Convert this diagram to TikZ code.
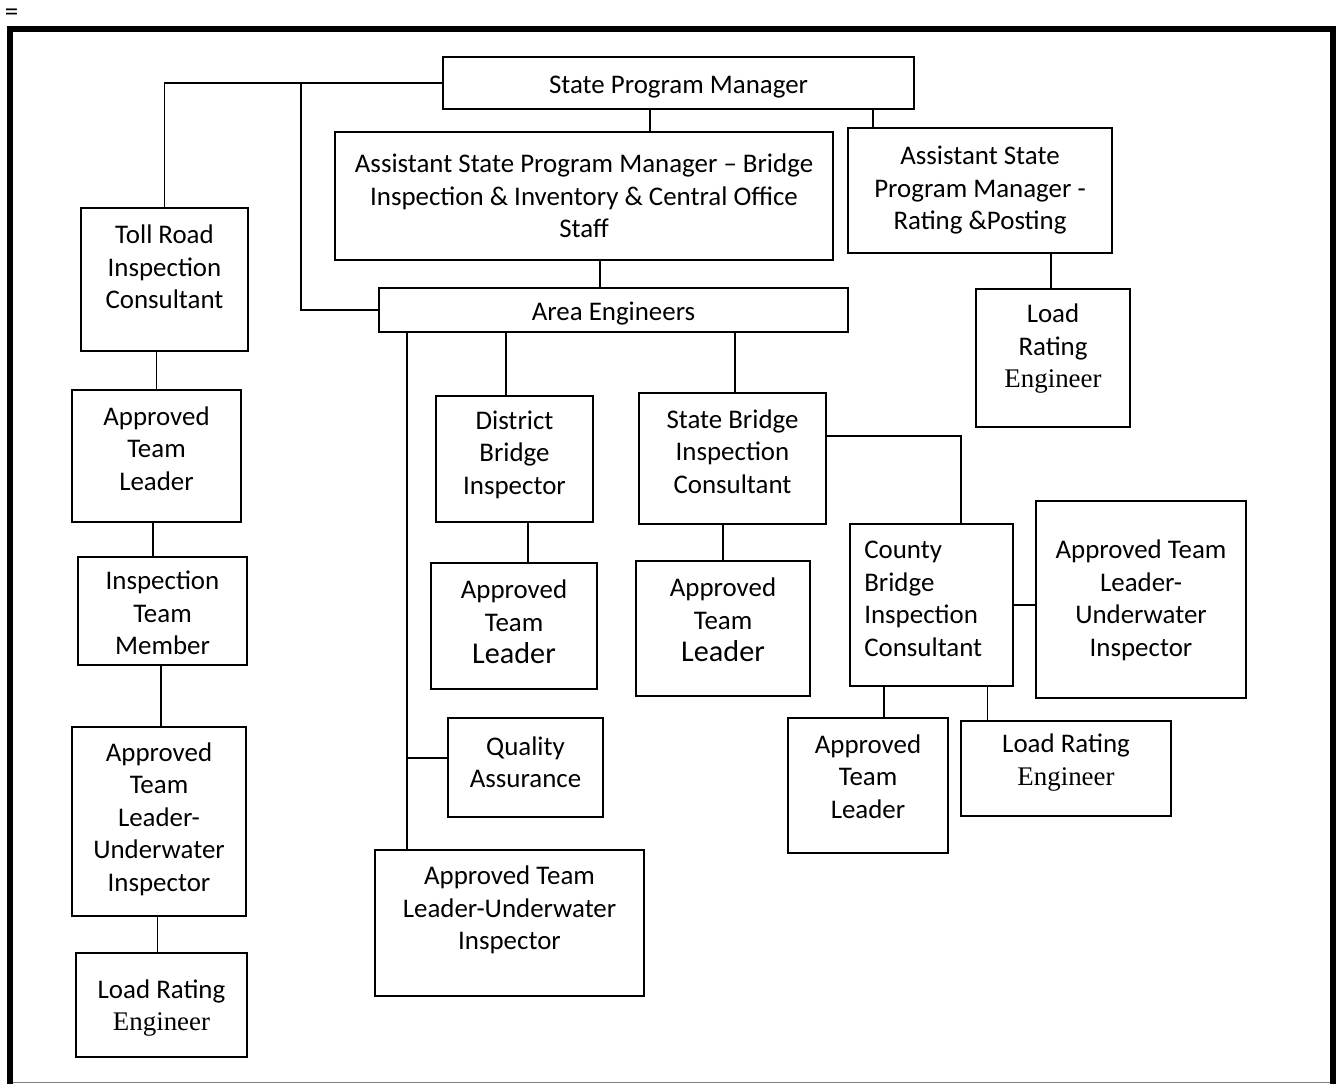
\documentclass[tikz,border=0pt]{standalone}
\usepackage{fontspec}
\setmainfont{Carlito}
\newfontfamily\engfont{Liberation Serif}
\newcommand{\bigleader}{\fontsize{30.2}{32.5}\selectfont}

\begin{document}
\begin{tikzpicture}[x=1pt,y=1pt,font=\fontsize{26.9}{32.5}\selectfont]
\tikzstyle{every node}+=[inner sep=0pt]
\tikzstyle{box}=[draw=black, line width=1.8pt]
\tikzstyle{link}=[draw=black, line width=1.8pt]
\tikzstyle{every label}=[align=center, inner sep=0pt]
\useasboundingbox (0,0) rectangle (1337,-1084);
\draw [black, line width=6pt] (10,-1084) -- (10,-28.7) -- (1332.5,-28.7) -- (1332.5,-1084);
\draw [gray, line width=1.5pt] (13,-1082.5) -- (1329.5,-1082.5);
\node (eqmark) at (11.5,-15) {=};
\node [box, minimum width=471, minimum height=52, label={[yshift=-4]center:State Program Manager}] (spm) at (678.5,-83) {};
\node [box, minimum width=498, minimum height=128, label={center:Assistant State Program Manager -- Bridge\\Inspection \& Inventory \& Central Office\\Staff}] (aspmb) at (584,-196) {};
\node [box, minimum width=264, minimum height=125, label={center:Assistant State\\Program Manager -\\Rating \&Posting}] (aspmr) at (980,-190.5) {};
\node [box, minimum width=167, minimum height=143, label={[yshift=12.5]center:Toll Road\\Inspection\\Consultant}] (toll) at (164.5,-279.5) {};
\node [box, minimum width=469, minimum height=44, label={[yshift=-4]center:Area Engineers}] (area) at (613.5,-310) {};
\node [box, minimum width=154, minimum height=138, label={[yshift=9]center:Load\\Rating\\{\engfont Engineer}}] (lret) at (1053,-358) {};
\node [box, minimum width=169, minimum height=132, label={[yshift=7.3]center:Approved\\Team\\Leader}] (atll) at (156.5,-456) {};
\node [box, minimum width=157, minimum height=126, label={[yshift=4.5]center:District\\Bridge\\Inspector}] (dbi) at (514.5,-459) {};
\node [box, minimum width=187, minimum height=131, label={[yshift=7]center:State Bridge\\Inspection\\Consultant}] (sbic) at (732.5,-458.5) {};
\node [box, minimum width=169, minimum height=108, label={[yshift=-2]center:Inspection\\Team\\Member}] (itm) at (162.5,-611) {};
\node [box, minimum width=166, minimum height=126, label={[yshift=4]center:Approved\\Team\\{\bigleader Leader}}] (atld) at (514,-626) {};
\node [box, minimum width=174, minimum height=135, label={[yshift=8.5]center:Approved\\Team\\{\bigleader Leader}}] (atls) at (723,-628.5) {};
\node [box, minimum width=163, minimum height=162, label={[align=left, anchor=west, xshift=15, yshift=6]west:County\\Bridge\\Inspection\\Consultant}] (cbic) at (931.5,-605) {};
\node [box, minimum width=210, minimum height=197, label={[yshift=-1]center:Approved Team\\Leader-\\Underwater\\Inspector}] (atluwr) at (1141,-599.5) {};
\node [box, minimum width=155, minimum height=99, label={[yshift=5.5]center:Quality\\Assurance}] (qa) at (525.5,-767.5) {};
\node [box, minimum width=160, minimum height=135, label={[yshift=9]center:Approved\\Team\\Leader}] (atlc) at (868,-785.5) {};
\node [box, minimum width=210, minimum height=95, label={[yshift=6]center:Load Rating\\{\engfont Engineer}}] (lrec) at (1066,-768.5) {};
\node [box, minimum width=174, minimum height=189, label={[yshift=2.5]center:Approved\\Team\\Leader-\\Underwater\\Inspector}] (atluwl) at (159,-821.5) {};
\node [box, minimum width=269, minimum height=146, label={[yshift=13]center:Approved Team\\Leader-Underwater\\Inspector}] (atluwc) at (509.5,-923) {};
\node [box, minimum width=171, minimum height=104, label={[yshift=-3]center:Load Rating\\{\engfont Engineer}}] (lreb) at (161.5,-1005) {};
\coordinate (lefttap) at (301,-83);
\draw [link] (spm.west) -| (toll.north);
\draw [link] (area.west) -| (lefttap);
\draw [link] ([xshift=-28.5]spm.south) -- ([xshift=66]aspmb.north);
\draw [link] ([xshift=194.5]spm.south) -- ([xshift=-107]aspmr.north);
\draw [link] ([xshift=16]aspmb.south) -- ([xshift=-13.5]area.north);
\draw [link] ([xshift=71]aspmr.south) -- ([xshift=-2]lret.north);
\draw [link] (toll.south -| atll.north) -- (atll.north);
\draw [link] ([xshift=-3.5]atll.south) -- ([xshift=-9.5]itm.north);
\draw [link] ([xshift=-1.5]itm.south) -- ([xshift=2]atluwl.north);
\draw [link] ([xshift=-1.5]atluwl.south) -- ([xshift=-4]lreb.north);
\draw [link] ([xshift=-107.5]area.south) -- ([xshift=-8.5]dbi.north);
\draw [link] ([xshift=121.5]area.south) -- ([xshift=2.5]sbic.north);
\draw [link] ([xshift=-206.5]area.south) -- ([xshift=-102.5]atluwc.north);
\draw [link] ([yshift=9.5]qa.west) -- ++(-41,0);
\draw [link] ([xshift=13.5]dbi.south) -- ([xshift=14]atld.north);
\draw [link] (sbic.south -| atls.north) -- (atls.north);
\draw [link] ([yshift=22.5]sbic.east) -| ([xshift=29.5]cbic.north);
\draw [link] (cbic.east) -- (cbic.east -| atluwr.west);
\draw [link] ([xshift=-47.5]cbic.south) -- ([xshift=16]atlc.north);
\draw [link] ([xshift=56]cbic.south) -- ([xshift=-78.5]lrec.north);
\end{tikzpicture}
\end{document}
